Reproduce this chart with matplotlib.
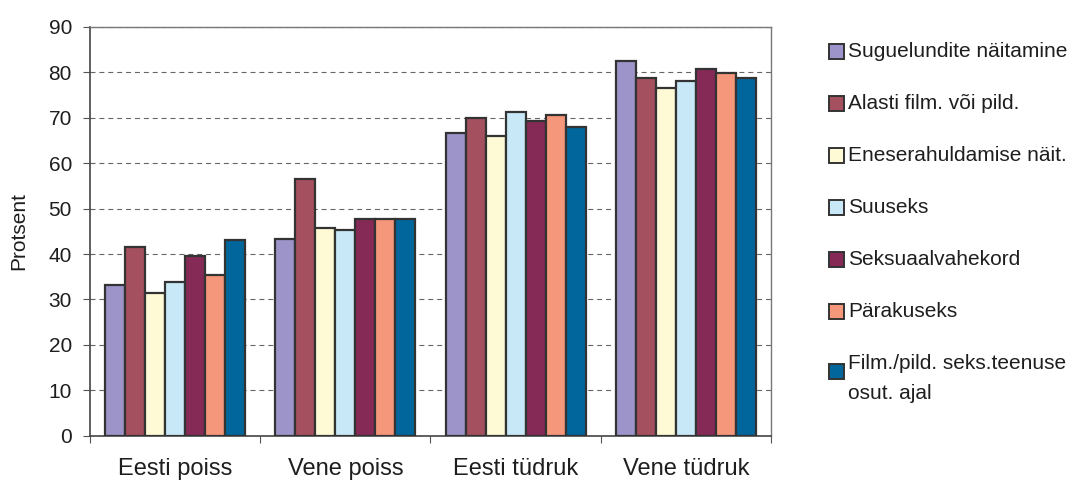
import numpy as np
import matplotlib
matplotlib.use('Agg')
import matplotlib.pyplot as plt
from matplotlib.patches import Rectangle

plt.rcParams['font.family'] = ['Liberation Sans', 'DejaVu Sans']

# andmed
groups = ['Eesti poiss', 'Vene poiss', 'Eesti tüdruk', 'Vene tüdruk']
series = ['Suguelundite näitamine', 'Alasti film. või pild.', 'Eneserahuldamise näit.',
          'Suuseks', 'Seksuaalvahekord', 'Pärakuseks',
          'Film./pild. seks.teenuse\nosut. ajal']
suguelundite = [33.2, 43.3, 66.7, 82.5]
alasti = [41.5, 56.5, 69.9, 78.7]
eneserahuldamise = [31.5, 45.8, 66.0, 76.5]
suuseks = [33.8, 45.3, 71.2, 78.2]
seksuaalvahekord = [39.6, 47.7, 69.4, 80.7]
parakuseks = [35.4, 47.7, 70.7, 79.8]
teenuse = [43.2, 47.7, 67.9, 78.7]
values = [suguelundite, alasti, eneserahuldamise, suuseks, seksuaalvahekord, parakuseks, teenuse]

colors = ['#9D95C9', '#A5505F', '#FFFAD6', '#C8E8F8', '#852A56', '#F5977A', '#01669B']
edge = '#333333'
txt = '#1e1e1e'

W, H = 1074, 480
fig = plt.figure(figsize=(W / 100, H / 100), dpi=100)
ax = fig.add_axes([90 / W, 44.3 / H, 681 / W, 408.7 / H])

x = np.arange(1, len(groups) + 1)
w = 20 / 170
for i, (vals, col) in enumerate(zip(values, colors)):
    ax.bar(x + (i - 3) * w, vals, width=w, color=col, edgecolor=edge,
           linewidth=1.6, zorder=3)

ax.set_xlim(0.5, 4.5)
ax.set_ylim(0, 90)
ax.set_yticks(np.arange(0, 91, 10))
ax.yaxis.grid(True, color='#666666', linestyle=(0, (4.5, 3.5)), linewidth=0.8, zorder=0)

# kategooriate piirid
ax.set_xticks(np.arange(0.5, 4.6, 1))
ax.set_xticklabels([])
ax.set_xticks(x, minor=True)
ax.set_xticklabels(groups, minor=True, fontsize=17, color=txt)
ax.tick_params(axis='x', which='minor', length=0, pad=16)
ax.tick_params(axis='x', which='major', length=5, direction='out', color='#555555')
ax.tick_params(axis='y', length=5, direction='out', labelsize=15, labelcolor=txt,
               color='#555555', pad=8)

for s in ['left', 'bottom']:
    ax.spines[s].set_color('#444444')
    ax.spines[s].set_linewidth(1.2)
for s in ['top', 'right']:
    ax.spines[s].set_color('#777777')
    ax.spines[s].set_linewidth(1.0)

ax.set_ylabel('Protsent', fontsize=15, color=txt)
ax.yaxis.set_label_coords(-62 / 681, 0.5)

# legend (käsitsi, et mitmerealine kirje joonduks nagu originaalis)
for i, (lab, col) in enumerate(zip(series, colors)):
    lines = lab.split('\n')
    yc = 51.7 + 52 * i
    ybox = yc if len(lines) == 1 else yc + 7.5
    fig.add_artist(Rectangle((828.5 / W, 1 - (ybox + 7.5) / H), 15 / W, 15 / H,
                             transform=fig.transFigure, facecolor=col,
                             edgecolor=edge, linewidth=1.4))
    for k, line in enumerate(lines):
        fig.text(848 / W, 1 - (yc + 30 * k) / H, line, fontsize=15, color=txt,
                 ha='left', va='center')

fig.savefig('out.png', dpi=100)
